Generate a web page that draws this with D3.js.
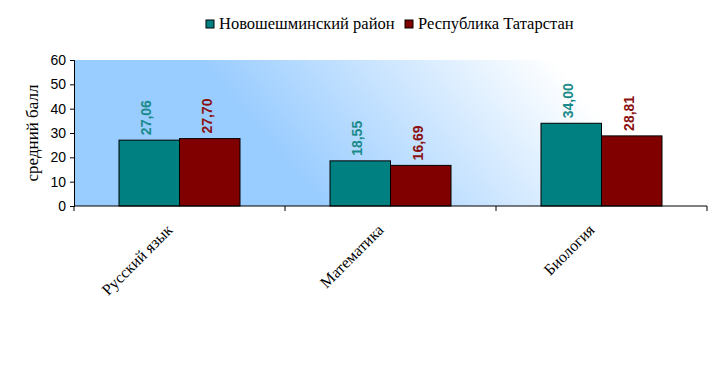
<!DOCTYPE html>
<html><head><meta charset="utf-8">
<script src="https://cdn.jsdelivr.net/npm/d3@7"></script>
<style>body{margin:0;background:#fff}svg{display:block}
.serif{font-family:'Liberation Serif','Times New Roman','DejaVu Serif',serif}
.sans{font-family:'Liberation Sans',Arial,sans-serif}</style>
</head><body>
<script>
const categories = ["Русский язык", "Математика", "Биология"];
const seriesNames = ["Новошешминский район", "Республика Татарстан"];
const districtValues = [27.06, 18.55, 34.00];
const republicValues = [27.70, 16.69, 28.81];
const valueLabels = [["27,06", "18,55", "34,00"], ["27,70", "16,69", "28,81"]];
const yTicks = [0, 10, 20, 30, 40, 50, 60];
const colors = ["#008080", "#800000"];
const labelColors = ["#1a8a8a", "#8b1010"];

const W = 725, H = 368;
const pL = 74, pR = 707, pT = 60, pB = 206;
const svg = d3.select("body").append("svg").attr("width", W).attr("height", H);

const defs = svg.append("defs");
const grad = defs.append("linearGradient").attr("id", "bg")
  .attr("gradientUnits", "userSpaceOnUse")
  .attr("x1", 200).attr("y1", 290).attr("x2", 520).attr("y2", 20);
grad.append("stop").attr("offset", "0%").attr("stop-color", "#99ccff");
grad.append("stop").attr("offset", "35%").attr("stop-color", "#99ccff");
grad.append("stop").attr("offset", "100%").attr("stop-color", "#ffffff");

const x0 = d3.scaleBand().domain(categories).range([pL, pR]).paddingInner(0).paddingOuter(0);
const x1 = d3.scaleBand().domain([0, 1]).range([45, x0.bandwidth() - 45]);
const y = d3.scaleLinear().domain([0, 60]).range([pB, pT]);

svg.append("rect").attr("x", pL).attr("y", pT).attr("width", pR - pL).attr("height", pB - pT)
  .attr("fill", "url(#bg)");

const data = categories.map((c, i) => ({c, v: [districtValues[i], republicValues[i]], i}));

const g = svg.selectAll("g.cat").data(data).enter().append("g").attr("class", "cat")
  .attr("transform", d => `translate(${x0(d.c)},0)`);
g.selectAll("rect").data(d => d.v.map((v, s) => ({v, s}))).enter().append("rect")
  .attr("x", d => x1(d.s)).attr("width", x1.bandwidth())
  .attr("y", d => y(d.v)).attr("height", d => y(0) - y(d.v))
  .attr("fill", d => colors[d.s]).attr("stroke", "#000").attr("stroke-width", 1);
g.selectAll("text.val").data(d => d.v.map((v, s) => ({v, s, i: d.i}))).enter().append("text")
  .attr("class", "val sans")
  .attr("transform", d => `translate(${x1(d.s) + x1.bandwidth() / 2 + 2},${y(d.v) - 5}) rotate(-90)`)
  .attr("font-size", 14).attr("font-weight", "bold")
  .attr("fill", d => labelColors[d.s])
  .text(d => valueLabels[d.s][d.i]);

// Y axis
const yAxis = d3.axisLeft(y).tickValues(yTicks).tickSize(4).tickPadding(4);
const ya = svg.append("g").attr("transform", `translate(${pL},0)`).call(yAxis);
ya.attr("font-family", null).attr("font-size", null);
ya.select(".domain").attr("stroke", "#000");
ya.selectAll("text").attr("class", "sans").attr("font-size", 14).attr("fill", "#000");

// X axis
const xa = svg.append("g").attr("transform", `translate(0,${pB})`);
xa.append("line").attr("x1", pL).attr("x2", pR).attr("y1", 0).attr("y2", 0).attr("stroke", "#000");
const tickPos = categories.map(c => x0(c)).concat([pR]);
xa.selectAll("line.t").data(tickPos).enter().append("line").attr("class", "t")
  .attr("x1", d => d).attr("x2", d => d).attr("y1", 0).attr("y2", 5).attr("stroke", "#000");
xa.selectAll("text").data(categories).enter().append("text")
  .attr("class", "serif")
  .attr("transform", c => `translate(${x0(c) + x0.bandwidth() / 2 - 6},${25}) rotate(-45)`)
  .attr("text-anchor", "end")
  .attr("font-size", 16).attr("fill", "#000")
  .text(c => c);

// Y title
svg.append("text").attr("class", "serif").attr("transform", `translate(38,${(pT + pB) / 2}) rotate(-90)`)
  .attr("text-anchor", "middle")
  .attr("font-size", 17).attr("fill", "#000").text("средний балл");

// Legend
const items = [{x: 206}, {x: 405}];
const leg = svg.append("g").selectAll("g").data(seriesNames).enter().append("g");
leg.append("rect").attr("x", (d, i) => items[i].x).attr("y", 20).attr("width", 8).attr("height", 8)
  .attr("fill", (d, i) => colors[i]).attr("stroke", "#000");
leg.append("text").attr("class", "serif").attr("x", (d, i) => items[i].x + 13).attr("y", 29)
  .attr("font-size", 16.5).attr("fill", "#000")
  .text(d => d);
</script>
</body></html>
